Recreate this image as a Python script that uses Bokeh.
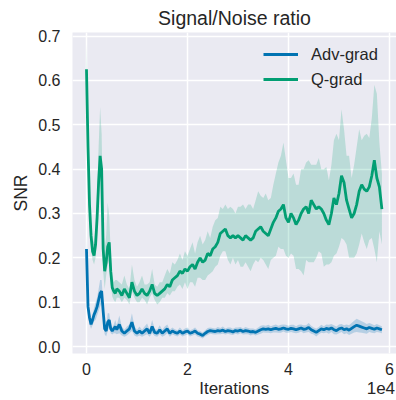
import numpy as np
from bokeh.plotting import figure
from bokeh.models import (FixedTicker, PrintfTickFormatter, Legend, LegendItem,
                          LinearAxis, Range1d, ColumnDataSource)
from bokeh.embed import file_html
from bokeh.resources import INLINE

# ---------------- data ----------------
iterations = list(range(0, 6001, 300)) + list(range(6500, 58501, 500))

q_mean = [
    0.625, 0.45, 0.32, 0.25, 0.215, 0.205, 0.23, 0.29, 0.37, 0.43, 0.40,
    0.22, 0.17, 0.19, 0.225, 0.235, 0.17, 0.133, 0.125, 0.12, 0.13,
    0.125, 0.115, 0.13, 0.12, 0.11, 0.145, 0.125, 0.115, 0.12, 0.13,
    0.12, 0.115, 0.125, 0.14, 0.12, 0.115, 0.12, 0.125, 0.13, 0.14,
    0.135, 0.15, 0.155, 0.16, 0.17, 0.165, 0.175, 0.17, 0.18, 0.185,
    0.175, 0.19, 0.2, 0.19, 0.195, 0.21, 0.205, 0.22, 0.225, 0.235,
    0.255, 0.26, 0.265, 0.25, 0.245, 0.25, 0.245, 0.25, 0.245, 0.24,
    0.25, 0.245, 0.24, 0.245, 0.26, 0.265, 0.27, 0.26, 0.255, 0.25,
    0.265, 0.28, 0.29, 0.305, 0.31, 0.32, 0.29, 0.28, 0.3, 0.29,
    0.275, 0.285, 0.3, 0.31, 0.315, 0.3, 0.33, 0.32, 0.31, 0.315,
    0.31, 0.3, 0.285, 0.275, 0.3, 0.335, 0.32, 0.345, 0.385, 0.37,
    0.33, 0.31, 0.29, 0.3, 0.32, 0.35, 0.365, 0.355, 0.35, 0.36,
    0.385, 0.42, 0.38, 0.36, 0.31,
]
q_up = [
    0.06, 0.05, 0.04, 0.03, 0.03, 0.03, 0.04, 0.06, 0.08, 0.11, 0.08,
    0.06, 0.05, 0.06, 0.10, 0.06, 0.04, 0.03, 0.02, 0.03, 0.02,
    0.02, 0.025, 0.03, 0.02, 0.02, 0.04, 0.025, 0.02, 0.025, 0.03,
    0.02, 0.025, 0.02, 0.035, 0.02, 0.02, 0.025, 0.02, 0.03, 0.035,
    0.03, 0.04, 0.03, 0.035, 0.04, 0.03, 0.04, 0.035, 0.04, 0.05,
    0.035, 0.045, 0.05, 0.04, 0.045, 0.05, 0.04, 0.05, 0.06, 0.055,
    0.06, 0.05, 0.055, 0.06, 0.07, 0.06, 0.055, 0.065, 0.07, 0.08,
    0.06, 0.075, 0.08, 0.065, 0.07, 0.085, 0.07, 0.075, 0.09, 0.08,
    0.07, 0.085, 0.1, 0.11, 0.12, 0.14, 0.13, 0.1, 0.08, 0.1,
    0.09, 0.08, 0.1, 0.09, 0.1, 0.12, 0.08, 0.09, 0.1, 0.11,
    0.09, 0.1, 0.12, 0.1, 0.11, 0.13, 0.16, 0.12, 0.15, 0.12,
    0.1, 0.12, 0.09, 0.11, 0.13, 0.14, 0.1, 0.12, 0.13, 0.11,
    0.13, 0.17, 0.19, 0.1, 0.08,
]
q_dn = [
    0.05, 0.04, 0.04, 0.03, 0.02, 0.02, 0.03, 0.04, 0.05, 0.05, 0.06,
    0.05, 0.04, 0.03, 0.04, 0.04, 0.03, 0.02, 0.02, 0.02, 0.02,
    0.015, 0.015, 0.02, 0.015, 0.015, 0.02, 0.015, 0.015, 0.02, 0.02,
    0.015, 0.02, 0.015, 0.02, 0.015, 0.02, 0.02, 0.015, 0.02, 0.02,
    0.02, 0.025, 0.03, 0.025, 0.03, 0.035, 0.03, 0.04, 0.035, 0.04,
    0.04, 0.035, 0.045, 0.04, 0.045, 0.05, 0.04, 0.05, 0.045, 0.05,
    0.05, 0.045, 0.05, 0.055, 0.06, 0.05, 0.06, 0.055, 0.065, 0.06,
    0.06, 0.065, 0.07, 0.06, 0.065, 0.075, 0.07, 0.065, 0.07, 0.075,
    0.07, 0.08, 0.085, 0.08, 0.09, 0.1, 0.085, 0.08, 0.09, 0.085,
    0.1, 0.11, 0.13, 0.15, 0.12, 0.11, 0.14, 0.13, 0.11, 0.1,
    0.1, 0.12, 0.1, 0.09, 0.11, 0.13, 0.11, 0.12, 0.14, 0.13,
    0.1, 0.11, 0.09, 0.1, 0.11, 0.12, 0.11, 0.12, 0.13, 0.12,
    0.14, 0.2, 0.19, 0.1, 0.08,
]
adv_mean = [
    0.22, 0.09, 0.065, 0.05, 0.06, 0.072, 0.08, 0.09, 0.105, 0.12, 0.125,
    0.08, 0.04, 0.035, 0.055, 0.06, 0.04, 0.035, 0.04, 0.045, 0.038,
    0.05, 0.035, 0.03, 0.035, 0.04, 0.055, 0.035, 0.03, 0.035, 0.03,
    0.035, 0.04, 0.03, 0.045, 0.032, 0.03, 0.038, 0.03, 0.035, 0.04,
    0.03, 0.035, 0.032, 0.03, 0.035, 0.03, 0.033, 0.035, 0.03, 0.032,
    0.035, 0.03, 0.028, 0.025, 0.03, 0.034, 0.036, 0.035, 0.034, 0.036,
    0.035, 0.037, 0.034, 0.036, 0.035, 0.033, 0.036, 0.035, 0.037, 0.034,
    0.036, 0.035, 0.033, 0.034, 0.032, 0.035, 0.038, 0.04, 0.039, 0.04,
    0.038, 0.04, 0.041, 0.039, 0.04, 0.042, 0.04, 0.039, 0.041, 0.04,
    0.038, 0.04, 0.042, 0.039, 0.04, 0.043, 0.038, 0.035, 0.032, 0.036,
    0.04, 0.038, 0.041, 0.039, 0.042, 0.038, 0.036, 0.04, 0.042, 0.038,
    0.04, 0.037, 0.041, 0.045, 0.048, 0.046, 0.044, 0.042, 0.04, 0.043,
    0.041, 0.039, 0.042, 0.04, 0.038,
]
adv_spread = [
    0.03, 0.02, 0.015, 0.01, 0.012, 0.015, 0.02, 0.02, 0.025, 0.03, 0.025,
    0.02, 0.012, 0.012, 0.02, 0.015, 0.01, 0.008, 0.01, 0.015, 0.01,
    0.02, 0.01, 0.008, 0.01, 0.01, 0.02, 0.01, 0.008, 0.01, 0.008,
    0.01, 0.012, 0.008, 0.015, 0.008, 0.008, 0.01, 0.008, 0.01, 0.01,
    0.008, 0.008, 0.007, 0.007, 0.008, 0.007, 0.008, 0.008, 0.007, 0.007,
    0.008, 0.007, 0.007, 0.007, 0.007, 0.008, 0.007, 0.007, 0.007, 0.008,
    0.007, 0.008, 0.007, 0.007, 0.008, 0.007, 0.007, 0.008, 0.007, 0.007,
    0.008, 0.007, 0.008, 0.007, 0.007, 0.008, 0.009, 0.008, 0.008, 0.009,
    0.008, 0.008, 0.009, 0.008, 0.009, 0.008, 0.009, 0.008, 0.008, 0.009,
    0.008, 0.009, 0.008, 0.009, 0.008, 0.01, 0.009, 0.008, 0.009, 0.008,
    0.009, 0.008, 0.009, 0.01, 0.009, 0.01, 0.009, 0.01, 0.009, 0.01,
    0.01, 0.011, 0.012, 0.013, 0.015, 0.014, 0.013, 0.012, 0.011, 0.01,
    0.01, 0.009, 0.009, 0.008, 0.008,
]

series_names = ["Adv-grad", "Q-grad"]
x_ticks = [0, 20000, 40000, 60000]
x_tick_labels = ["0", "2", "4", "6"]
y_ticks = [0.0, 0.1, 0.2, 0.3, 0.4, 0.5, 0.6, 0.7]
x_title = "Iterations"
x_offset_text = "1e4"

# ---------------- derived columns ----------------
x = np.array(iterations, dtype=float)
qm = np.array(q_mean)
am = np.array(adv_mean)
src = ColumnDataSource(dict(
    x=x,
    q=qm, q_lo=qm - np.array(q_dn), q_hi=qm + np.array(q_up),
    a=am, a_lo=am - np.array(adv_spread), a_hi=am + np.array(adv_spread),
))

BLUE = "#0173B2"
GREEN = "#029E73"
TXT = "#262626"
FONT = "Liberation Sans"

X0, X1 = -2770, 61390
p = figure(width=396, height=400, output_backend="svg", toolbar_location=None,
           x_range=Range1d(X0, X1), y_range=Range1d(-0.0156, 0.708),
           min_border_left=72, min_border_right=0, min_border_top=32,
           min_border_bottom=47)

p.background_fill_color = "#EAEAF2"
p.border_fill_color = "white"
p.outline_line_color = None

p.title.text = "Signal/Noise ratio"
p.title.align = "center"
p.title.text_font = FONT
p.title.text_font_size = "19.5px"
p.title.text_font_style = "normal"
p.title.text_color = TXT
p.title.standoff = 8


def style_axis(ax, label_size="16px"):
    ax.axis_line_color = None
    ax.major_tick_line_color = None
    ax.minor_tick_line_color = None
    ax.major_tick_out = 0
    ax.major_tick_in = 0
    ax.minor_tick_out = 0
    ax.minor_tick_in = 0
    ax.major_label_text_font = FONT
    ax.major_label_text_font_size = label_size
    ax.major_label_text_color = TXT
    ax.axis_label_text_font = FONT
    ax.axis_label_text_font_size = "17.5px"
    ax.axis_label_text_font_style = "normal"
    ax.axis_label_text_color = TXT


xa = p.xaxis[0]
ya = p.yaxis[0]
style_axis(xa)
style_axis(ya)

xa.ticker = FixedTicker(ticks=x_ticks)
xa.major_label_overrides = {t: l for t, l in zip(x_ticks, x_tick_labels)}
xa.major_label_standoff = 9

ya.ticker = FixedTicker(ticks=y_ticks)
ya.formatter = PrintfTickFormatter(format="%.1f")
ya.axis_label = "SNR"
ya.major_label_standoff = 12
ya.axis_label_standoff = 4

# second row below the x-axis: the axis title and the "1e4" offset text
title_pos = [29250, 58300]
xa2 = LinearAxis(ticker=FixedTicker(ticks=title_pos),
                 major_label_overrides={title_pos[0]: x_title,
                                        title_pos[1]: x_offset_text})
style_axis(xa2, label_size="17px")
xa2.major_label_standoff = 1
p.add_layout(xa2, "below")

p.xgrid.ticker = FixedTicker(ticks=x_ticks)
p.ygrid.ticker = FixedTicker(ticks=y_ticks)
p.grid.grid_line_color = "white"
p.grid.grid_line_width = 1.5

p.varea(x="x", y1="a_lo", y2="a_hi", source=src, fill_color=BLUE, fill_alpha=0.22)
la = p.line(x="x", y="a", source=src, line_color=BLUE, line_width=2.8)
p.varea(x="x", y1="q_lo", y2="q_hi", source=src, fill_color=GREEN, fill_alpha=0.2)
lq = p.line(x="x", y="q", source=src, line_color=GREEN, line_width=2.8)

legend = Legend(items=[LegendItem(label=series_names[0], renderers=[la]),
                       LegendItem(label=series_names[1], renderers=[lq])],
                location=(191, 264), border_line_color=None,
                background_fill_alpha=0, padding=0, spacing=5,
                glyph_width=35, glyph_height=20, label_height=20,
                label_standoff=13, label_text_font=FONT,
                label_text_font_size="16.5px", label_text_color=TXT)
p.add_layout(legend)

open("out.html", "w").write(file_html(p, INLINE))
